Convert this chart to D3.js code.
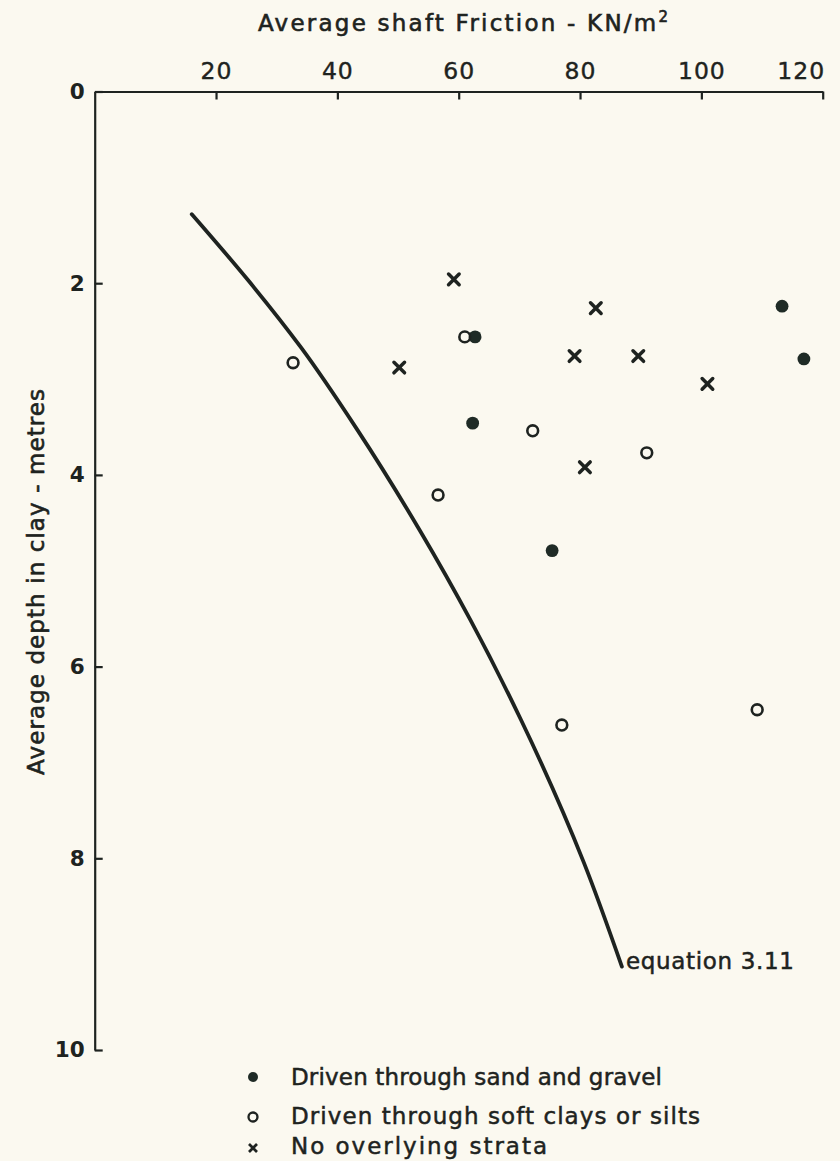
<!DOCTYPE html>
<html>
<head>
<meta charset="utf-8">
<script src="https://cdn.jsdelivr.net/npm/d3@7"></script>
<style>
  body { margin: 0; background: #fbf9f0; }
  text { font-family: "DejaVu Sans", sans-serif; fill: #1e2320; }
  .axis path, .axis line { stroke: #1e2320; stroke-width: 2.2; }
</style>
</head>
<body>
<div id="chart"></div>
<script>
// values: [average shaft friction kN/m2, average depth m]
var sandGravel = [[62.7, 2.56], [62.3, 3.46], [113.3, 2.24], [116.9, 2.79], [75.4, 4.79]];
var softClays = [[61.0, 2.56], [32.7, 2.83], [72.2, 3.54], [56.6, 4.21], [91.0, 3.77], [77.0, 6.61], [109.2, 6.45]];
var noStrata = [[59.2, 1.96], [50.2, 2.88], [82.6, 2.26], [79.1, 2.76], [89.6, 2.76], [101.0, 3.05], [80.8, 3.92]];

// equation 3.11 line
var equationCurve = [[16.0, 1.28], [25.3, 1.97], [34.0, 2.67], [43.3, 3.53], [53.6, 4.58],
  [61.9, 5.51], [70.3, 6.56], [80.6, 8.04], [86.9, 9.13]];

var xTicks = [20, 40, 60, 80, 100, 120];
var yTicks = [0, 2, 4, 6, 8, 10];
var legendLabels = ["Driven through sand and gravel", "Driven through soft clays or silts", "No overlying strata"];

var svgWidth = 840;
var svgHeight = 1161;
var ink = "#1e2320";

var svg = d3.select("#chart")
  .append("svg")
  .attr("width", svgWidth)
  .attr("height", svgHeight);

var x = d3.scaleLinear().domain([0, 120]).range([94.7, 822.7]);
var y = d3.scaleLinear().domain([0, 10]).range([91.5, 1050]);

// top axis (friction)
var xAxis = svg.append("g")
  .attr("class", "axis")
  .attr("transform", "translate(0," + y(0) + ")")
  .call(d3.axisTop(x).tickValues(xTicks).tickSize(-8).tickSizeOuter(0).tickPadding(13));
xAxis.selectAll("text")
  .attr("font-size", 23.5)
  .attr("letter-spacing", 1)
  .attr("stroke", ink)
  .attr("stroke-width", 0.4)
  .style("font-family", "DejaVu Sans")
  .attr("fill", ink);
xAxis.selectAll(".tick text")
  .filter(d => d === 120)
  .attr("text-anchor", "end")
  .attr("dx", 2);

// left axis (depth)
var yAxis = svg.append("g")
  .attr("class", "axis")
  .attr("transform", "translate(" + x(0) + ",0)")
  .call(d3.axisLeft(y).tickValues(yTicks).tickSize(-8).tickSizeOuter(0).tickPadding(10));
yAxis.selectAll("text")
  .attr("font-size", 21.5)
  .attr("font-weight", "bold")
  .style("font-family", "DejaVu Sans")
  .attr("fill", ink);

// axis titles
var xTitle = svg.append("text")
  .attr("x", 258)
  .attr("y", 31)
  .attr("font-size", 23)
  .attr("stroke", ink)
  .attr("stroke-width", 0.6)
  .attr("textLength", 410)
  .attr("lengthAdjust", "spacing")
  .text("Average shaft Friction - KN/m");
xTitle.append("tspan")
  .attr("dy", -9)
  .attr("font-size", 15)
  .text("2");

svg.append("text")
  .attr("transform", "translate(44,775) rotate(-90)")
  .attr("font-size", 23)
  .attr("stroke", ink)
  .attr("stroke-width", 0.6)
  .attr("textLength", 386)
  .attr("lengthAdjust", "spacing")
  .text("Average depth in clay - metres");

// equation 3.11 curve
var line = d3.line()
  .x(d => x(d[0]))
  .y(d => y(d[1]))
  .curve(d3.curveMonotoneY);

svg.append("path")
  .datum(equationCurve)
  .attr("d", line)
  .attr("fill", "none")
  .attr("stroke", ink)
  .attr("stroke-width", 3.8)
  .attr("stroke-linecap", "round");

var last = equationCurve[equationCurve.length - 1];
svg.append("text")
  .attr("x", x(last[0]) + 4)
  .attr("y", y(last[1]) + 2)
  .attr("font-size", 23)
  .attr("stroke", ink)
  .attr("stroke-width", 0.5)
  .attr("textLength", 168)
  .attr("lengthAdjust", "spacing")
  .text("equation 3.11");

// markers
function crossPath(s) {
  return "M" + (-s) + "," + (-s) + "L" + s + "," + s + "M" + (-s) + "," + s + "L" + s + "," + (-s);
}

svg.append("g").selectAll("circle")
  .data(sandGravel)
  .enter()
  .append("circle")
  .attr("cx", d => x(d[0]))
  .attr("cy", d => y(d[1]))
  .attr("r", 6.4)
  .attr("fill", "#1f2b26");

svg.append("g").selectAll("circle")
  .data(softClays)
  .enter()
  .append("circle")
  .attr("cx", d => x(d[0]))
  .attr("cy", d => y(d[1]))
  .attr("r", 5.4)
  .attr("fill", "none")
  .attr("stroke", ink)
  .attr("stroke-width", 2.6);

svg.append("g").selectAll("path")
  .data(noStrata)
  .enter()
  .append("path")
  .attr("transform", d => "translate(" + x(d[0]) + "," + y(d[1]) + ")")
  .attr("d", crossPath(5.3))
  .attr("stroke", ink)
  .attr("stroke-width", 3.5)
  .attr("stroke-linecap", "round");

// legend
var legendRows = [1077, 1116, 1146];
var legendWidths = [371, 409, 256];
var legend = svg.append("g");

legend.append("circle")
  .attr("cx", 253).attr("cy", legendRows[0])
  .attr("r", 5).attr("fill", "#1f2b26");
legend.append("circle")
  .attr("cx", 253).attr("cy", legendRows[1] + 1)
  .attr("r", 4.5).attr("fill", "none")
  .attr("stroke", ink).attr("stroke-width", 2.3);
legend.append("path")
  .attr("transform", "translate(253," + (legendRows[2] + 2) + ")")
  .attr("d", crossPath(4))
  .attr("stroke", ink)
  .attr("stroke-width", 2.7);

legend.selectAll("text")
  .data(legendLabels)
  .enter()
  .append("text")
  .attr("x", 291)
  .attr("y", (d, i) => legendRows[i])
  .attr("dy", "0.36em")
  .attr("font-size", 23)
  .attr("stroke", ink)
  .attr("stroke-width", 0.5)
  .attr("textLength", (d, i) => legendWidths[i])
  .attr("lengthAdjust", "spacing")
  .text(d => d);
</script>
</body>
</html>
